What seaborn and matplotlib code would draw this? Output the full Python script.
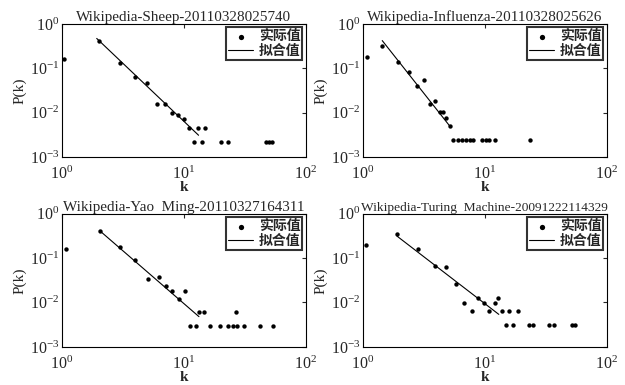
import numpy as np
import pandas as pd
import matplotlib
matplotlib.use("Agg")
import matplotlib.pyplot as plt
import seaborn as sns

# panel titles
titles = ["Wikipedia-Sheep-20110328025740",
          "Wikipedia-Influenza-20110328025626",
          "Wikipedia-Yao  Ming-20110327164311",
          "Wikipedia-Turing  Machine-20091222114329"]
title_sizes = [10.9, 10.9, 10.9, 9.6]

# Sheep: measured points and fitted line end points
sheep_k = [1.05, 2, 3, 4, 5, 6, 7, 8, 9, 10, 11, 13, 15, 12, 14, 20, 23, 47, 50, 53]
sheep_p = [0.16, 0.42, 0.134, 0.064, 0.047, 0.016, 0.016, 0.0098, 0.0089, 0.0071,
           0.0046, 0.0046, 0.0046, 0.0022, 0.0022, 0.0022, 0.0022, 0.0022, 0.0022, 0.0022]
sheep_fit_k = [1.93, 13.2]
sheep_fit_p = [0.47, 0.0031]

# Influenza
flu_k = [1.07, 1.43, 1.94, 2.39, 2.78, 3.17, 3.58, 3.88, 4.27, 4.5, 4.78, 5.15,
         5.5, 6.0, 6.5, 7.0, 7.5, 8.0, 9.4, 10.2, 10.9, 12.2, 23.4]
flu_p = [0.18, 0.32, 0.142, 0.084, 0.040, 0.055, 0.0155, 0.018, 0.0104, 0.0104, 0.0077, 0.0051,
         0.00245, 0.00245, 0.00245, 0.00245, 0.00245, 0.00245, 0.00245, 0.00245, 0.00245, 0.00245, 0.00245]
flu_fit_k = [1.44, 5.15]
flu_fit_p = [0.42, 0.005]

# Yao Ming
yao_k = [1.085, 2.05, 3, 4, 5.1, 6.2, 7.1, 8.05, 9.2, 10.2, 13.3, 14.5, 26.8,
         11.3, 12.5, 16.4, 19.6, 22.9, 25.2, 27.2, 31, 42, 53.4]
yao_p = [0.16, 0.40, 0.18, 0.091, 0.034, 0.037, 0.024, 0.018, 0.012, 0.0186, 0.006, 0.006, 0.006,
         0.003, 0.003, 0.003, 0.003, 0.003, 0.003, 0.003, 0.003, 0.003, 0.003]
yao_fit_k = [2.03, 13.3]
yao_fit_p = [0.42, 0.0048]

# Turing Machine
tur_k = [1.05, 1.91, 2.82, 3.91, 4.81, 5.8, 6.7, 7.85, 8.85, 9.8, 10.9, 12, 12.9, 13.8, 15.9, 18.8,
         14.9, 16.9, 22.9, 24.7, 33.3, 37.1, 51.5, 54.9]
tur_p = [0.195, 0.35, 0.164, 0.068, 0.063, 0.026, 0.0098, 0.0063, 0.0128, 0.0098, 0.0063, 0.0098,
         0.0128, 0.0063, 0.0063, 0.0063, 0.0031, 0.0031, 0.0031, 0.0031, 0.0031, 0.0031, 0.0031, 0.0031]
tur_fit_k = [1.91, 13.0]
tur_fit_p = [0.31, 0.0054]

panels = [(sheep_k, sheep_p, sheep_fit_k, sheep_fit_p),
          (flu_k, flu_p, flu_fit_k, flu_fit_p),
          (yao_k, yao_p, yao_fit_k, yao_fit_p),
          (tur_k, tur_p, tur_fit_k, tur_fit_p)]

sns.set_style("white")
plt.rcParams['font.family'] = ['Liberation Serif', 'Noto Sans CJK SC']
plt.rcParams['mathtext.fontset'] = 'cm'
plt.rcParams['xtick.direction'] = 'in'
plt.rcParams['ytick.direction'] = 'in'

fig, axes = plt.subplots(2, 2, figsize=(6.25, 3.85), dpi=100)
plt.subplots_adjust(left=0.099, right=0.971, top=0.938, bottom=0.099, wspace=0.234, hspace=0.425)

for ax, title, tsize, (k, p, fk, fp) in zip(axes.flat, titles, title_sizes, panels):
    pts = pd.DataFrame({"k": k, "P": p})
    fit = pd.DataFrame({"k": fk, "P": fp})
    sns.scatterplot(data=pts, x="k", y="P", ax=ax, color="black", s=10,
                    edgecolor="black", linewidth=0, label="实际值")
    sns.lineplot(data=fit, x="k", y="P", ax=ax, color="black", linewidth=0.8, label="拟合值")
    ax.set_xscale("log")
    ax.set_yscale("log")
    ax.set_xlim(1, 100)
    ax.set_ylim(1e-3, 1)
    ax.set_xticks([1, 10, 100])
    ax.set_yticks([1e-3, 1e-2, 1e-1, 1])
    ax.minorticks_off()
    ax.tick_params(labelsize=11.5, length=3, top=True, right=True, pad=2)
    ax.tick_params(axis="x", pad=6)
    ax.set_title(title, fontsize=tsize, pad=2)
    ax.set_xlabel("k", fontsize=11, fontweight="bold", labelpad=-1)
    ax.set_ylabel("P(k)", fontsize=11, labelpad=2)
    for sp in ax.spines.values():
        sp.set_color("black")
        sp.set_linewidth(0.8)
    leg = ax.legend(loc="upper right", prop={"family": ["Noto Sans CJK SC"], "size": 10, "weight": "bold"},
                    frameon=True, fancybox=False, borderpad=0.15, labelspacing=0.05,
                    handlelength=1.8, handletextpad=0.4, borderaxespad=0.25, markerscale=1.2)
    leg.get_frame().set_edgecolor("black")
    leg.get_frame().set_linewidth(1.5)

fig.savefig("out.png", dpi=100)
